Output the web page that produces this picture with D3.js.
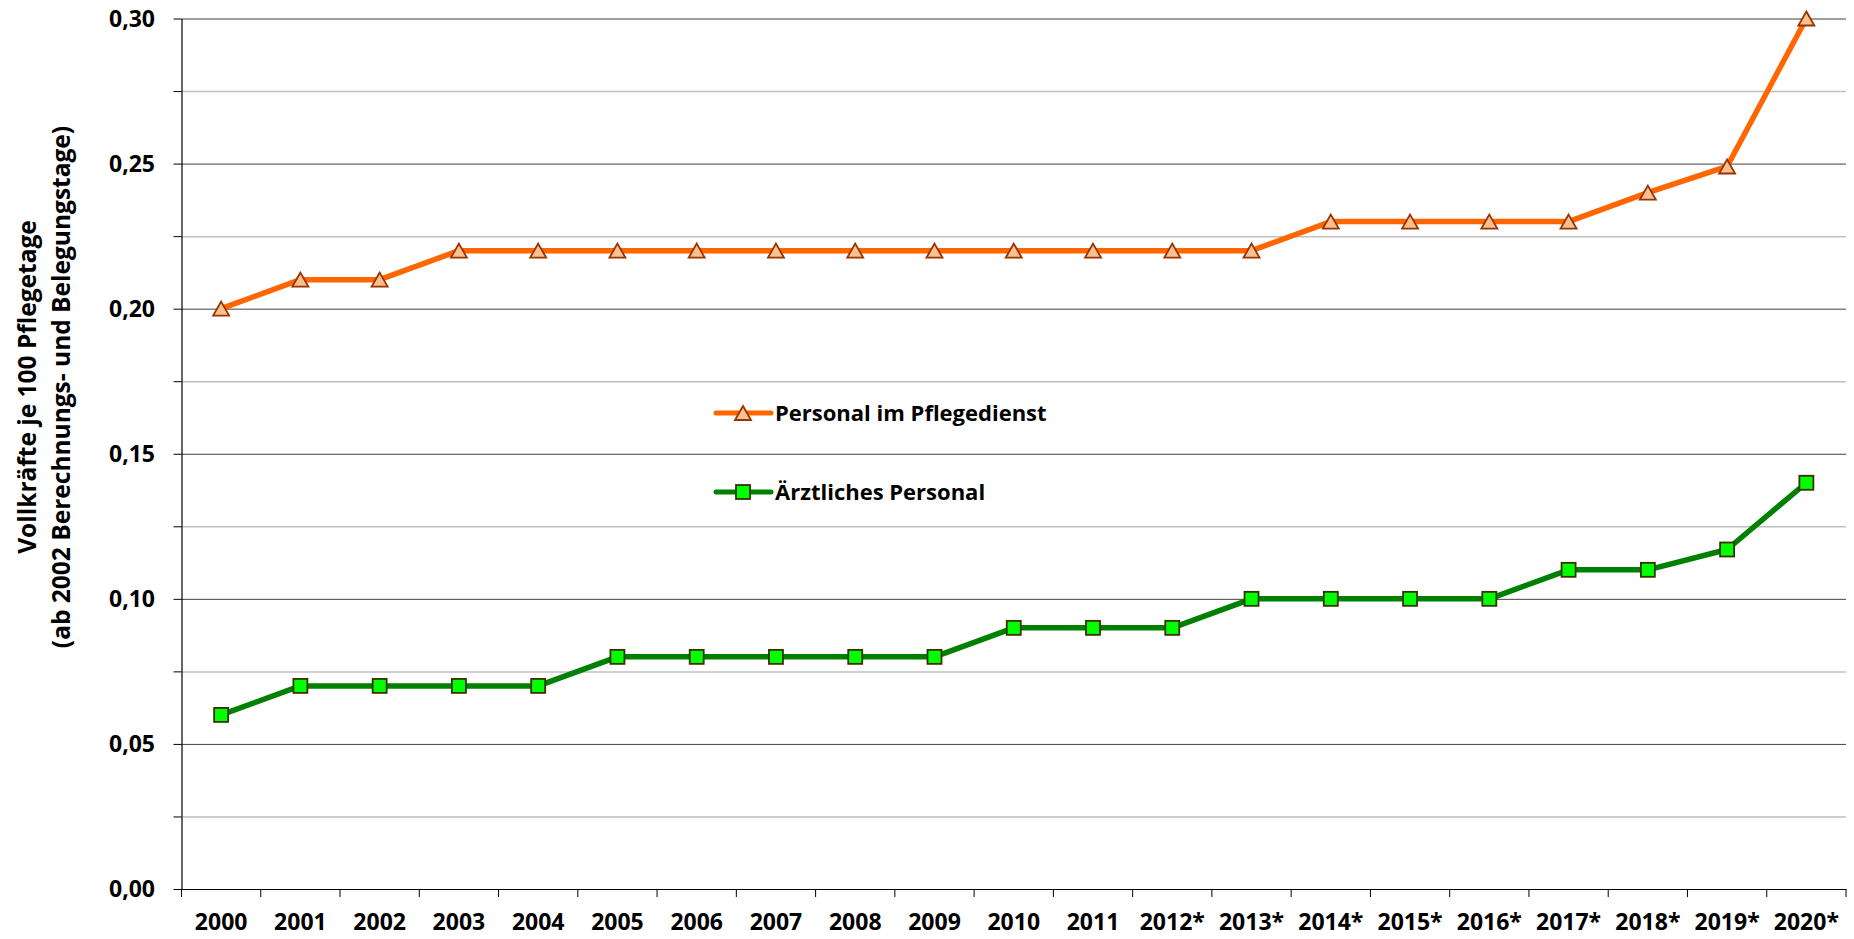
<!DOCTYPE html>
<html>
<head>
<meta charset="utf-8">
<script src="https://cdn.jsdelivr.net/npm/d3@7"></script>
<style>
  body { margin: 0; background: #fff; }
  text { font-family: "Open Sans", Lato, sans-serif; font-weight: bold; fill: #000; }
</style>
</head>
<body>
<script>
var years = ["2000","2001","2002","2003","2004","2005","2006","2007","2008","2009","2010",
  "2011","2012*","2013*","2014*","2015*","2016*","2017*","2018*","2019*","2020*"];
var pflege = [0.20,0.21,0.21,0.22,0.22,0.22,0.22,0.22,0.22,0.22,0.22,
  0.22,0.22,0.22,0.23,0.23,0.23,0.23,0.24,0.249,0.30];
var aerzte = [0.06,0.07,0.07,0.07,0.07,0.08,0.08,0.08,0.08,0.08,0.09,
  0.09,0.09,0.10,0.10,0.10,0.10,0.11,0.11,0.117,0.14];
var yMajor = [0,0.05,0.10,0.15,0.20,0.25,0.30];
var yMinor = [0.025,0.075,0.125,0.175,0.225,0.275];
var seriesNames = ["Personal im Pflegedienst","Ärztliches Personal"];

var width = 1854, height = 939;
var margin = {top: 18.5, right: 8, bottom: 50, left: 181.5};

var svg = d3.select("body").append("svg")
  .attr("width", width).attr("height", height);

var x = d3.scaleBand()
  .domain(years)
  .range([margin.left, width - margin.right]);

var y = d3.scaleLinear()
  .domain([0, 0.30])
  .range([height - margin.bottom, margin.top]);

var fmt = function(d) { return d3.format(".2f")(d).replace(".", ","); };

// minor gridlines
svg.append("g")
  .attr("transform", "translate(" + margin.left + ",0)")
  .call(d3.axisLeft(y).tickValues(yMinor).tickSize(-(width - margin.left - margin.right)).tickFormat(""))
  .call(function(g) {
    g.select(".domain").remove();
    g.selectAll("line").attr("stroke", "#bfbfbf").attr("stroke-width", 1.5);
  });

// major gridlines
svg.append("g")
  .attr("transform", "translate(" + margin.left + ",0)")
  .call(d3.axisLeft(y).tickValues(yMajor).tickSize(-(width - margin.left - margin.right)).tickFormat(""))
  .call(function(g) {
    g.select(".domain").remove();
    g.selectAll("line").attr("stroke", "#404040").attr("stroke-width", 1);
  });

// y axis with outside ticks
svg.append("g")
  .attr("transform", "translate(" + margin.left + ",0)")
  .call(d3.axisLeft(y).tickValues(yMajor.concat(yMinor)).tickSize(8).tickSizeOuter(0).tickFormat(""))
  .call(function(g) {
    g.select(".domain").attr("stroke", "#000").attr("stroke-width", 1.2);
    g.selectAll("line").attr("stroke", "#000");
  });

svg.append("g").selectAll("text")
  .data(yMajor)
  .enter().append("text")
  .attr("x", 155)
  .attr("y", function(d) { return y(d); })
  .attr("dy", "0.36em")
  .attr("text-anchor", "end")
  .style("font-size", "23px")
  .text(fmt);

// x axis
var xAxisG = svg.append("g")
  .attr("transform", "translate(0," + y(0) + ")")
  .call(d3.axisBottom(x).tickSize(0).tickSizeOuter(0))
  .call(function(g) {
    g.select(".domain").attr("stroke", "#000").attr("stroke-width", 1.2);
    g.selectAll("text").attr("dy", 0).attr("y", 41).style("font-size", "23px")
      .style("font-family", "'Open Sans', sans-serif").style("font-weight", "bold").attr("fill", "#000");
  });

var bounds = years.map(function(d) { return x(d); }).concat([x.range()[1]]);
xAxisG.selectAll(".bnd")
  .data(bounds)
  .enter().append("line")
  .attr("x1", function(d) { return d; })
  .attr("x2", function(d) { return d; })
  .attr("y1", 0).attr("y2", 8)
  .attr("stroke", "#000");

// y title
var title = svg.append("text")
  .attr("transform", "translate(27,387) rotate(-90)")
  .attr("text-anchor", "middle")
  .style("font-size", "24.5px");
title.append("tspan").attr("x", 0).attr("dy", "0.35em").text("Vollkräfte je 100 Pflegetage");
title.append("tspan").attr("x", 0).attr("dy", "1.42em").text("(ab 2002 Berechnungs- und Belegungstage)");

var line = d3.line()
  .x(function(d, i) { return x(years[i]) + x.bandwidth() / 2; })
  .y(function(d) { return y(d); });

// triangle whose bounding box is centred on the point
var triType = {
  draw: function(ctx, size) {
    var w = 16, h = 14;
    ctx.moveTo(0, -h / 2);
    ctx.lineTo(w / 2, h / 2);
    ctx.lineTo(-w / 2, h / 2);
    ctx.closePath();
  }
};
var tri = d3.symbol().type(triType);

// Pflege series
svg.append("path")
  .datum(pflege)
  .attr("d", line)
  .attr("fill", "none")
  .attr("stroke", "#ff6600")
  .attr("stroke-width", 5.5)
  .attr("stroke-linejoin", "round");

svg.append("g").selectAll("path")
  .data(pflege)
  .enter().append("path")
  .attr("d", tri)
  .attr("transform", function(d, i) { return "translate(" + (x(years[i]) + x.bandwidth() / 2) + "," + y(d) + ")"; })
  .attr("fill", "#fac090")
  .attr("stroke", "#993300")
  .attr("stroke-width", 1.8);

// Aerzte series
svg.append("path")
  .datum(aerzte)
  .attr("d", line)
  .attr("fill", "none")
  .attr("stroke", "#008000")
  .attr("stroke-width", 5.5)
  .attr("stroke-linejoin", "round");

svg.append("g").selectAll("rect")
  .data(aerzte)
  .enter().append("rect")
  .attr("x", function(d, i) { return x(years[i]) + x.bandwidth() / 2 - 7; })
  .attr("y", function(d) { return y(d) - 7; })
  .attr("width", 14).attr("height", 14)
  .attr("fill", "#00ff00")
  .attr("stroke", "#3a3000")
  .attr("stroke-width", 1.8);

// legend
var legend = svg.append("g");
var rows = [
  {name: seriesNames[0], y: 413, color: "#ff6600"},
  {name: seriesNames[1], y: 492, color: "#008000"}
];
rows.forEach(function(r, i) {
  legend.append("line")
    .attr("x1", 716).attr("x2", 771)
    .attr("y1", r.y).attr("y2", r.y)
    .attr("stroke", r.color).attr("stroke-width", 5).attr("stroke-linecap", "round");
  if (i === 0) {
    legend.append("path").attr("d", tri)
      .attr("transform", "translate(743," + r.y + ")")
      .attr("fill", "#fac090").attr("stroke", "#993300").attr("stroke-width", 1.8);
  } else {
    legend.append("rect").attr("x", 736).attr("y", r.y - 7)
      .attr("width", 14).attr("height", 14)
      .attr("fill", "#00ff00").attr("stroke", "#3a3000").attr("stroke-width", 1.8);
  }
  legend.append("text")
    .attr("x", 775).attr("y", r.y).attr("dy", "0.36em")
    .style("font-size", "22px")
    .text(r.name);
});
</script>
</body>
</html>
